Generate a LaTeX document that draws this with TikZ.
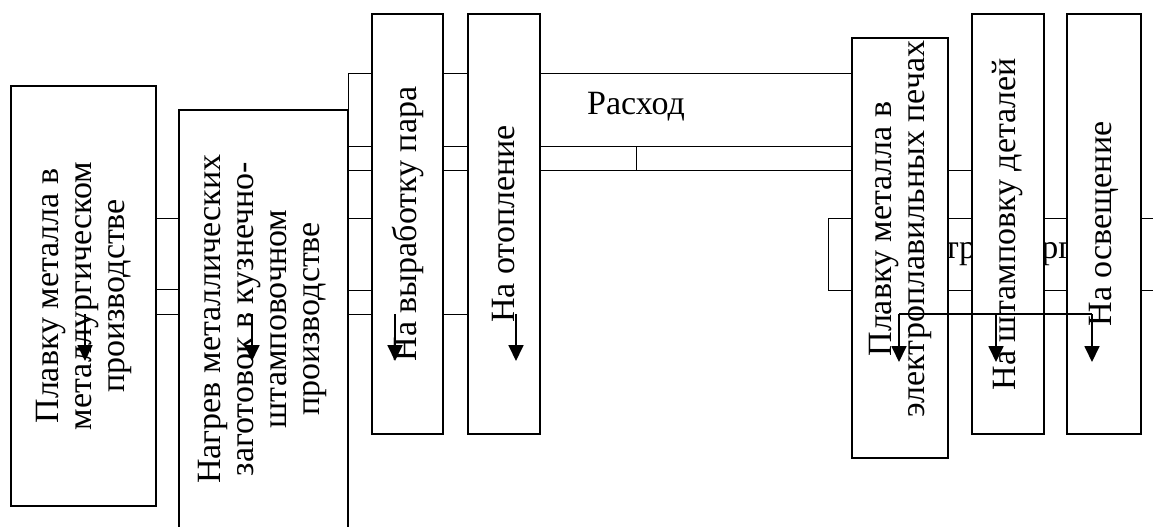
\documentclass[tikz,border=0pt]{standalone}
\usepackage{fontspec}
\setmainfont{Liberation Serif}
\usetikzlibrary{arrows.meta,backgrounds}

\begin{document}
\begin{tikzpicture}[
						x=0.5pt,
						y=-0.5pt,
						line width=0.9pt,
						font=\fontsize{17}{16.5}\selectfont,
						box/.style={draw, fill=white, inner sep=0pt, outer sep=0pt, minimum height=210pt},
						vtext/.style={rotate=90, align=center, inner sep=0pt},
						down/.style={-{Triangle[width=7.5pt,length=8pt]}}
					]
					\useasboundingbox (0,0) rectangle (1153,526);
					\node[box, minimum width=72.5pt] (metal) at (83.5,296) {};
					\node[box, minimum width=84.5pt] (nagrev) at (263.5,320) {};
					\node[box, minimum width=35.5pt] (par) at (407.5,224) {};
					\node[box, minimum width=36pt] (otopl) at (504,224) {};
					\node[box, minimum width=48pt] (elpech) at (900,248) {};
					\node[box, minimum width=36pt] (shtamp) at (1008,224) {};
					\node[box, minimum width=37pt] (osv) at (1104,224) {};
					\node[vtext] (metaltext) at (metal) {Плавку металла в\\металлургическом\\производстве};
					\node[vtext] (nagrevtext) at (262,319) {Нагрев металлических\\заготовок в кузнечно-\\штамповочном\\производстве};
					\node[vtext] (partext) at (par) {На выработку пара};
					\node[vtext] (otopltext) at (otopl) {На отопление};
					\node[vtext] (elpechtext) at (900,229) {Плавку металла в\\электроплавильных печах};
					\node[vtext] (shtamptext) at (shtamp) {На штамповку деталей};
					\node[vtext] (osvtext) at (osv) {На освещение};
					\node (rashod) at (636,107) {Расход};
					\begin{scope}[on background layer]
						\foreach \y in {218,289}
							\draw (metal.east |- 0,\y) -- (nagrev.west |- 0,\y);
						\draw (nagrev.east |- 0,73) -- (nagrev.south east);
						\draw (nagrev.east |- 0,73) rectangle (924,146);
						\draw (nagrev.east |- 0,170) -- (shtamp.center |- 0,170);
						\draw (rashod.center |- 0,146) -- (rashod.center |- 0,170);
						\foreach \y in {218,290}
							\draw (nagrev.east |- 0,\y) -- (par.west |- 0,\y);
						\draw (85,314) -- (516,314);
						\draw (828,218) rectangle (1170,290);
						\node (energ) at (990,251) {Электроэнергия};
					\end{scope}
					\foreach \x in {85,252,395,516}
						\draw[down] (\x,314) -- (\x,361);
					\draw (899,314) -- (1092,314);
					\foreach \x in {899,996,1092}
						\draw[down] (\x,314) -- (\x,362);
				\end{tikzpicture}
\end{document}
